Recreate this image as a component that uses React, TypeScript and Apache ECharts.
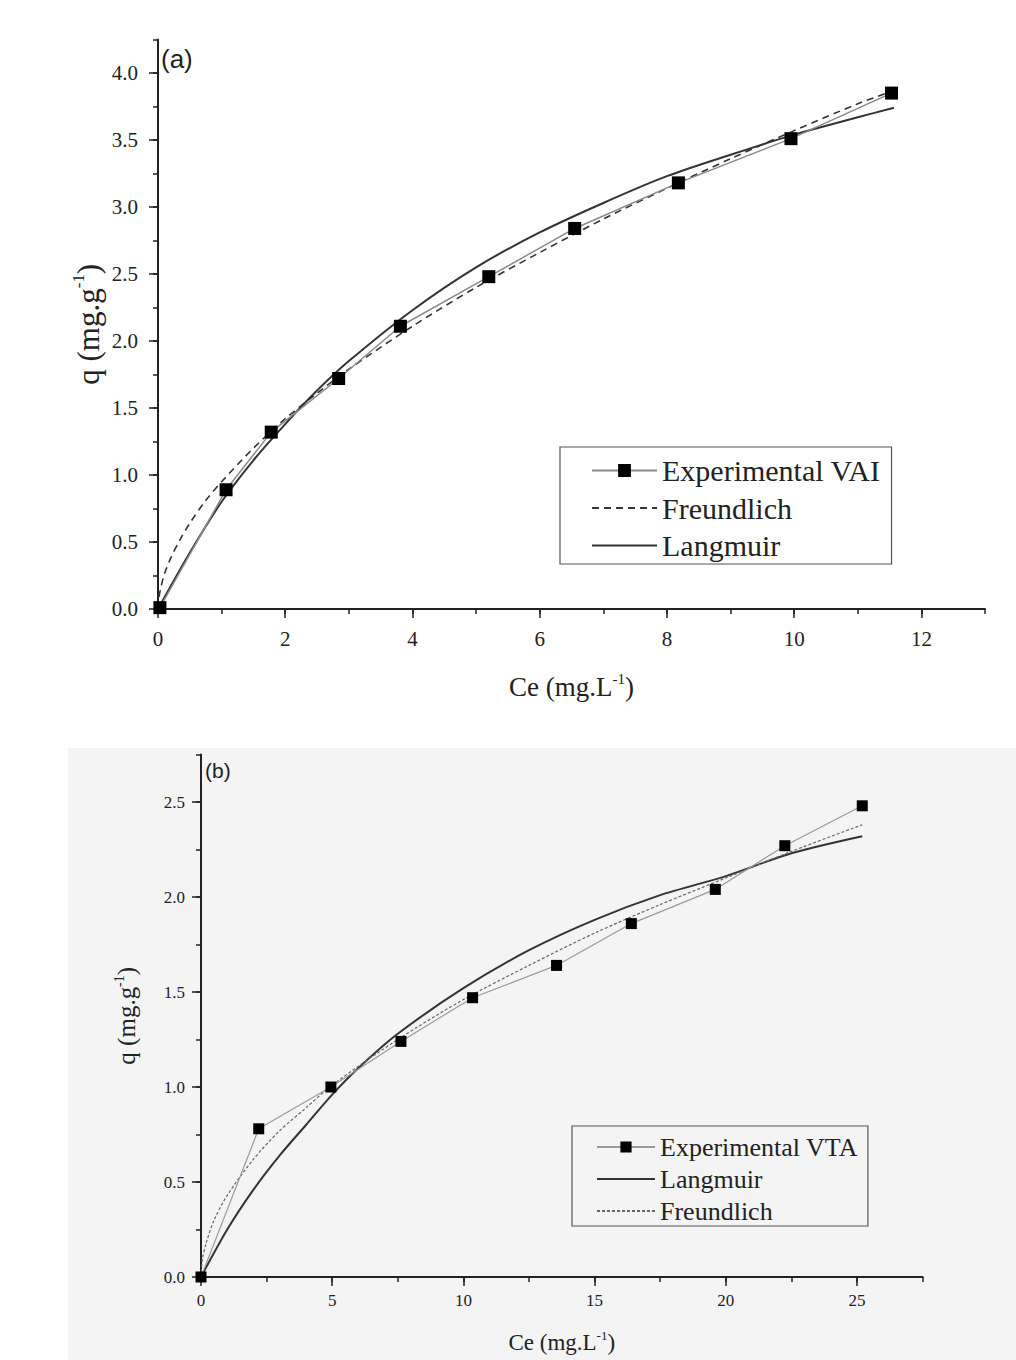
import React, { useEffect, useRef } from "react";
import * as echarts from "echarts";

// ---------- (a) VAI ----------
const expVAI_C = [0.03, 1.07, 1.78, 2.84, 3.81, 5.2, 6.55, 8.18, 9.95, 11.53];
const expVAI_q = [0.01, 0.89, 1.32, 1.72, 2.11, 2.48, 2.84, 3.18, 3.51, 3.85];
const langA_C = [0, 0.5, 1, 1.5, 2, 2.5, 3, 4, 5, 6, 7, 8, 9, 10, 11, 11.57];
const langA_q = [0, 0.42, 0.8, 1.11, 1.38, 1.63, 1.85, 2.23, 2.55, 2.81, 3.03, 3.23, 3.39, 3.54, 3.67, 3.74];
const freuA_C = [0, 0.02, 0.05, 0.1, 0.2, 0.35, 0.5, 0.75, 1, 1.5, 2, 2.5, 3, 4, 5, 6, 7, 8, 9, 10, 11, 11.57];
const freuA_q = [0, 0.1, 0.17, 0.26, 0.38, 0.52, 0.64, 0.81, 0.95, 1.2, 1.42, 1.61, 1.79, 2.11, 2.4, 2.66, 2.91, 3.14, 3.36, 3.57, 3.77, 3.87];

// ---------- (b) VTA ----------
const expVTA_C = [0.0, 2.2, 4.95, 7.62, 10.35, 13.55, 16.4, 19.6, 22.25, 25.2];
const expVTA_q = [0.0, 0.78, 1.0, 1.24, 1.47, 1.64, 1.86, 2.04, 2.27, 2.48];
const langB_C = [0, 1, 2, 3, 4, 5, 6, 7.5, 10, 12.5, 15, 17.5, 20, 22.5, 25.2];
const langB_q = [0, 0.25, 0.46, 0.64, 0.8, 0.96, 1.1, 1.28, 1.52, 1.72, 1.88, 2.01, 2.11, 2.23, 2.32];
const freuB_C = [0, 0.05, 0.2, 0.5, 1, 2, 3, 4, 5, 7.5, 10, 12.5, 15, 17.5, 20, 22.5, 25.2];
const freuB_q = [0, 0.09, 0.18, 0.3, 0.43, 0.62, 0.77, 0.89, 1.01, 1.25, 1.46, 1.64, 1.81, 1.96, 2.1, 2.24, 2.38];

const pairs = (xs: number[], ys: number[]) => xs.map((x, i) => [x, ys[i]]);

const SERIF = "Liberation Serif";
const AX = "#222";

export default function App() {
  const ref = useRef<HTMLDivElement>(null);
  useEffect(() => {
    document.body.style.margin = "0";
    const chart = echarts.init(ref.current!, null, { renderer: "svg" });

    const richSup = (nfs: number) => ({
      sup: { fontFamily: SERIF, fontSize: Math.round(nfs * 0.55), color: AX, padding: [0, 0, Math.round(nfs * 0.6), 0] },
    });
    const mainX = (grid: number, max: number, interval: number, fs: number, margin: number, name: string, nameGap: number, nfs: number) => ({
      type: "value", gridIndex: grid, min: 0, max, interval, position: "bottom",
      axisLine: { show: true, onZero: false, lineStyle: { color: AX, width: 2 } },
      axisTick: { show: true, length: 9, lineStyle: { color: AX, width: 1.5 } },
      axisLabel: { show: true, color: AX, fontFamily: SERIF, fontSize: fs, margin, showMaxLabel: false },
      splitLine: { show: false },
      name, nameLocation: "middle", nameGap, nameMoveOverlap: false,
      nameTextStyle: { fontFamily: SERIF, fontSize: nfs, color: AX, rich: richSup(nfs) },
    });
    const minorX = (grid: number, max: number, interval: number) => ({
      type: "value", gridIndex: grid, min: 0, max, interval, position: "bottom",
      axisLine: { show: false, onZero: false },
      axisTick: { show: true, length: 5, lineStyle: { color: AX, width: 1.5 } },
      axisLabel: { show: false }, splitLine: { show: false },
    });
    const mainY = (grid: number, max: number, fs: number, margin: number, name: string, nameGap: number, nfs: number) => ({
      type: "value", gridIndex: grid, min: 0, max, interval: 0.5, position: "left",
      axisLine: { show: true, onZero: false, lineStyle: { color: AX, width: 2 } },
      axisTick: { show: true, length: 9, lineStyle: { color: AX, width: 1.5 } },
      axisLabel: { show: true, color: AX, fontFamily: SERIF, fontSize: fs, margin, showMaxLabel: false, formatter: (v: number) => v.toFixed(1) },
      splitLine: { show: false },
      name, nameLocation: "middle", nameGap, nameMoveOverlap: false,
      nameTextStyle: { fontFamily: SERIF, fontSize: nfs, color: AX, rich: richSup(nfs) },
    });
    const minorY = (grid: number, max: number) => ({
      type: "value", gridIndex: grid, min: 0, max, interval: 0.25, position: "left",
      axisLine: { show: false, onZero: false },
      axisTick: { show: true, length: 5, lineStyle: { color: AX, width: 1.5 } },
      axisLabel: { show: false }, splitLine: { show: false },
    });

    const option: any = {
      animation: false,
      backgroundColor: "#ffffff",
      graphic: [
        { type: "rect", shape: { x: 68, y: 748, width: 948, height: 612 }, style: { fill: "#f4f4f4" }, z: -10, silent: true },
        { type: "text", x: 161, y: 46, style: { text: "(a)", font: "26px 'Liberation Sans'", fill: "#222" } },
        { type: "text", x: 205, y: 760, style: { text: "(b)", font: "21px 'Liberation Sans'", fill: "#222" } },
      ],
      grid: [
        { left: 158, right: 31, top: 39.5, bottom: 751, containLabel: false },
        { left: 201, right: 93.4, top: 754.5, bottom: 83, containLabel: false },
      ],
      xAxis: [
        mainX(0, 13, 2, 21, 19, "Ce (mg.L{sup|-1})", 62, 27),
        minorX(0, 13, 1),
        mainX(1, 27.5, 5, 17, 15, "Ce (mg.L{sup|-1})", 52, 23),
        minorX(1, 27.5, 2.5),
      ],
      yAxis: [
        mainY(0, 4.25, 21, 20, "q (mg.g{sup|-1})", 52, 31),
        minorY(0, 4.25),
        mainY(1, 2.75, 17, 16, "q (mg.g{sup|-1})", 60, 25),
        minorY(1, 2.75),
      ],
      legend: [
        {
          orient: "vertical", left: 560, top: 447,
          padding: [7, 11, 2, 31], itemGap: 4.5, itemWidth: 65, itemHeight: 16,
          borderColor: "#555", borderWidth: 1.2, selectedMode: false,
          textStyle: { fontFamily: SERIF, fontSize: 30, color: AX, lineHeight: 33 },
          data: [
            { name: "Experimental VAI" },
            { name: "Freundlich", itemStyle: { opacity: 0 } },
            { name: "Langmuir", itemStyle: { opacity: 0 } },
          ],
        },
        {
          orient: "vertical", left: 572, top: 1126,
          padding: [7, 10, 1, 24], itemGap: 4, itemWidth: 58, itemHeight: 14,
          borderColor: "#555", borderWidth: 1.2, selectedMode: false,
          textStyle: { fontFamily: SERIF, fontSize: 26, color: AX, lineHeight: 28 },
          formatter: (n: string) => n.replace(" (b)", ""),
          data: [
            { name: "Experimental VTA" },
            { name: "Langmuir (b)", itemStyle: { opacity: 0 } },
            { name: "Freundlich (b)", itemStyle: { opacity: 0 } },
          ],
        },
      ],
      series: [
        {
          name: "Freundlich", type: "line", xAxisIndex: 0, yAxisIndex: 0,
          data: pairs(freuA_C, freuA_q), symbol: "none", smooth: 0.3,
          lineStyle: { color: "#333", width: 1.6, type: [7, 5] }, itemStyle: { color: "#333" }, z: 2,
        },
        {
          name: "Langmuir", type: "line", xAxisIndex: 0, yAxisIndex: 0,
          data: pairs(langA_C, langA_q), symbol: "none", smooth: 0.3,
          lineStyle: { color: "#333", width: 2 }, itemStyle: { color: "#333" }, z: 2,
        },
        {
          name: "Experimental VAI", type: "line", xAxisIndex: 0, yAxisIndex: 0,
          data: pairs(expVAI_C, expVAI_q), symbol: "rect", symbolSize: 13, showAllSymbol: true,
          lineStyle: { color: "#8a8a8a", width: 1.5 }, itemStyle: { color: "#000" }, z: 3,
        },
        {
          name: "Langmuir (b)", type: "line", xAxisIndex: 2, yAxisIndex: 2,
          data: pairs(langB_C, langB_q), symbol: "none", smooth: 0.3,
          lineStyle: { color: "#333", width: 2 }, itemStyle: { color: "#333" }, z: 2,
        },
        {
          name: "Freundlich (b)", type: "line", xAxisIndex: 2, yAxisIndex: 2,
          data: pairs(freuB_C, freuB_q), symbol: "none", smooth: 0.3,
          lineStyle: { color: "#666", width: 1.2, type: [3, 2] }, itemStyle: { color: "#666" }, z: 2,
        },
        {
          name: "Experimental VTA", type: "line", xAxisIndex: 2, yAxisIndex: 2,
          data: pairs(expVTA_C, expVTA_q), symbol: "rect", symbolSize: 11, showAllSymbol: true,
          lineStyle: { color: "#9a9a9a", width: 1.2 }, itemStyle: { color: "#000" }, z: 3,
        },
      ],
    };
    chart.setOption(option);
    return () => chart.dispose();
  }, []);
  return <div ref={ref} style={{ width: 1016, height: 1360 }} />;
}
